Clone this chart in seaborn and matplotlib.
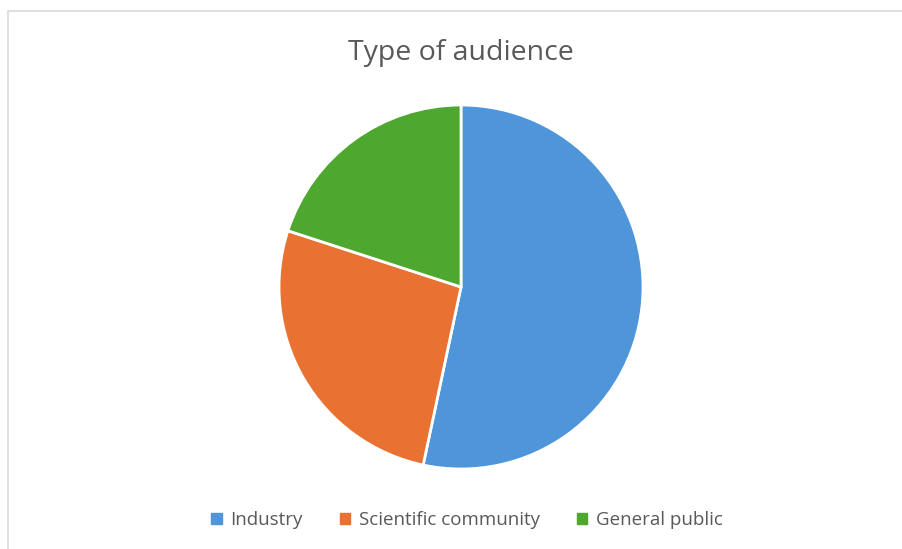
import matplotlib
matplotlib.use("Agg")
import matplotlib.pyplot as plt
import seaborn as sns
from matplotlib.patches import Rectangle, Patch

categories = ["Industry", "Scientific community", "General public"]
values = [8, 4, 3]
colors = ["#4E95D9", "#E97132", "#4EA72E"]
title = "Type of audience"

sns.set_theme(style="white")
plt.rcParams['font.family'] = ['Open Sans', 'DejaVu Sans']

W, H = 903, 549
fig = plt.figure(figsize=(W / 100, H / 100), dpi=100)
fig.patch.set_facecolor("white")

# chart border
fig.patches.append(Rectangle((8 / W, -0.05), 1.0, (H - 11) / H + 0.05,
                             transform=fig.transFigure, fill=False,
                             edgecolor="#D9D9D9", linewidth=1.2))

cx, cy, r = 461, 287, 182
ax = fig.add_axes([(cx - r) / W, (H - cy - r) / H, 2 * r / W, 2 * r / H])
ax.pie(values, colors=colors, startangle=90, counterclock=False,
       wedgeprops=dict(edgecolor="white", linewidth=2), radius=1.0)
ax.set_xlim(-1.0, 1.0)
ax.set_ylim(-1.0, 1.0)
ax.set_aspect("equal")
ax.axis("off")

fig.text(461 / W, 1 - 53 / H, title, ha="center", va="center",
         fontsize=20.5, color="#595959")

handles = [Patch(facecolor=c, edgecolor=c) for c in colors]
fig.legend(handles, categories, loc="center", bbox_to_anchor=(467 / W, 1 - 520 / H),
           ncol=3, frameon=False, fontsize=13.5, labelcolor="#595959",
           handlelength=0.55, handleheight=0.55, handletextpad=0.45, columnspacing=2.0)

fig.savefig("out.png", dpi=100, facecolor="white")
